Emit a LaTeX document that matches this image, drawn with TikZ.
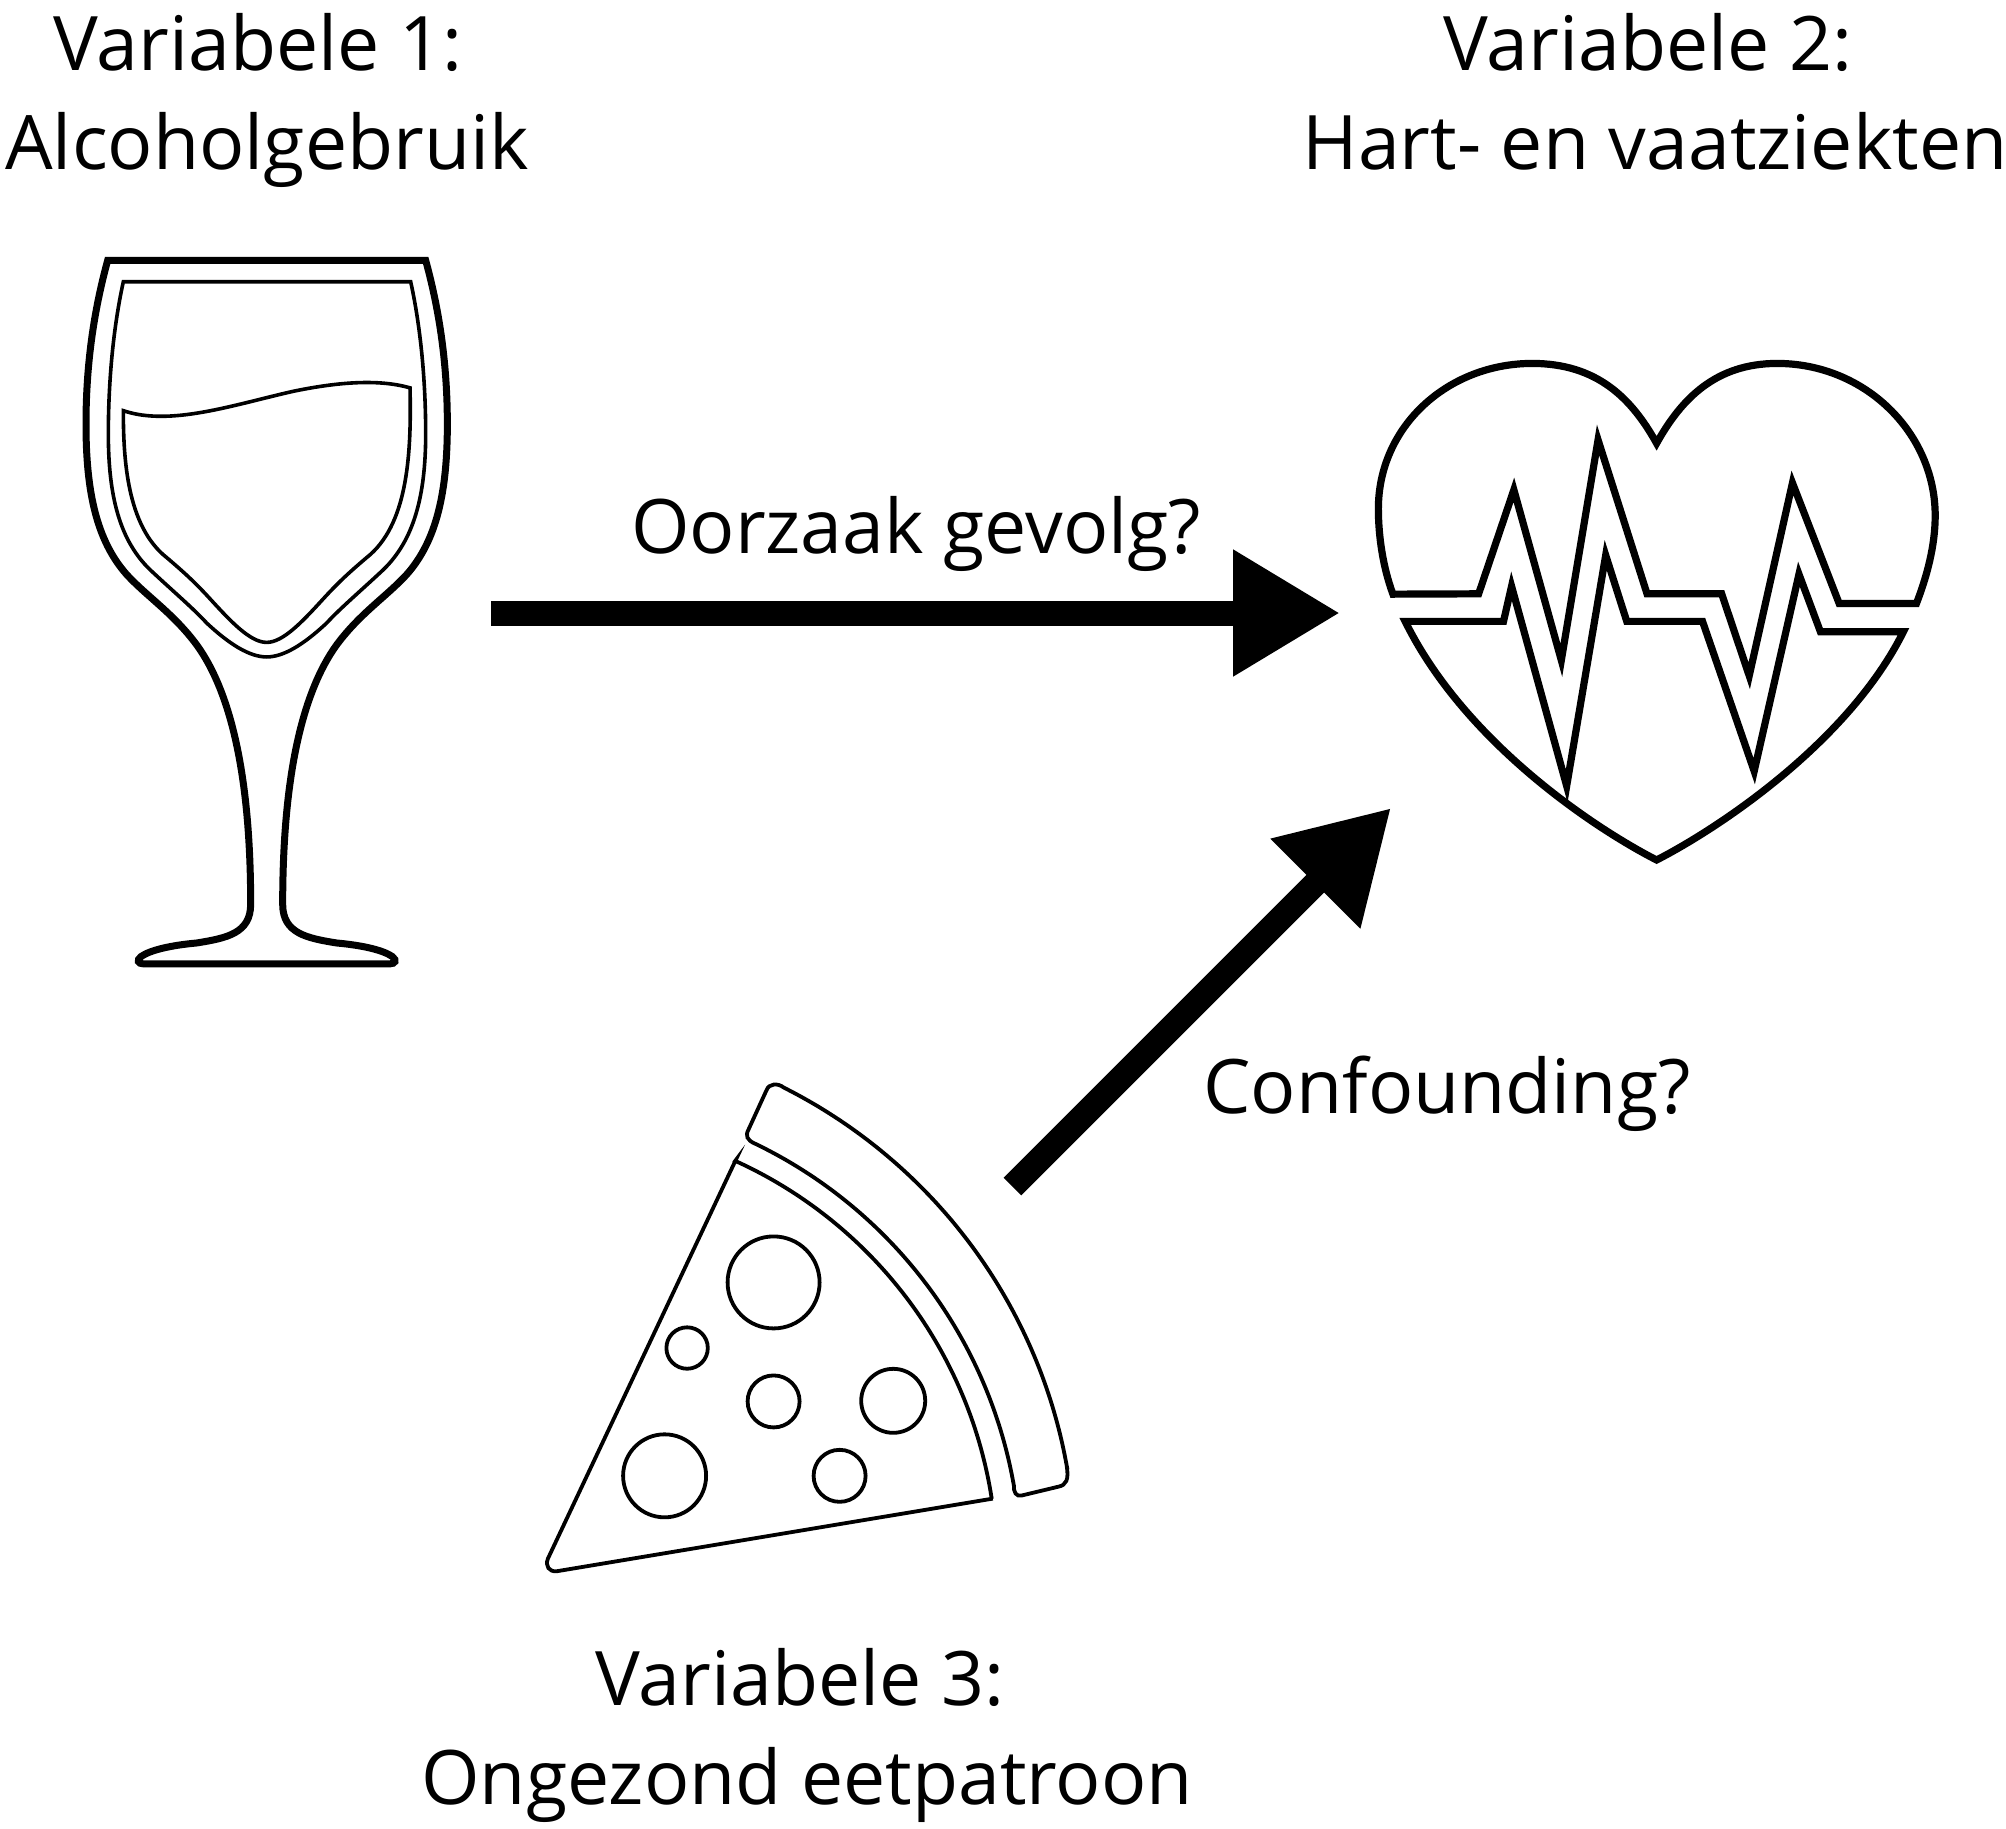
\documentclass[tikz,border=0pt]{standalone}
\usepackage{fontspec}
\setmainfont{Open Sans}
\usetikzlibrary{arrows.meta}
\tikzset{
  lbl/.style={anchor=base,inner sep=0pt,font=\fontsize{37.6pt}{37.6pt}\selectfont,text=black},
  fat/.style={line width=12.5pt,-{Triangle[length=53.5pt,width=60pt]},draw=black},
  glassthick/.style={line width=3.5pt,draw=black,line join=miter},
  glassthin/.style={line width=1.8pt,draw=black,line join=miter},
  heartline/.style={line width=3.6pt,draw=black,line join=miter,miter limit=30},
  pizzaline/.style={line width=1.9pt,draw=black,line join=miter}
}
\begin{document}
\begin{tikzpicture}[x=0.5pt,y=-0.5pt]
\useasboundingbox[fill=white] (0,0) rectangle (2006,1828);
% labels
\node[lbl] (v1a) at (258,70) {Variabele 1:};
\node[lbl] (v1b) at (267,169) {Alcoholgebruik};
\node[lbl] (v2a) at (1648,70) {Variabele 2:};
\node[lbl] (v2b) at (1655,169) {Hart- en vaatziekten};
\node[lbl] (oz) at (916,553) {Oorzaak gevolg?};
\node[lbl] (cf) at (1447,1113) {Confounding?};
\node[lbl] (v3a) at (800,1705) {Variabele 3:};
\node[lbl] (v3b) at (807,1804) {Ongezond eetpatroon};
% connectors
\coordinate (glassEnd) at (491,613);
\coordinate (heartEndA) at (1340,613);
\coordinate (pizzaEnd) at (1012.5,1186.5);
\coordinate (heartEndB) at (1391,808);
\draw[fat] (glassEnd) -- (heartEndA);
\draw[fat] (pizzaEnd) -- (heartEndB);
% glass
\begin{scope}[shift={(60,240)},x=0.16667pt,y=-0.2424pt]
\draw[glassthick] (143,42) -- (1097,42)
  .. controls (1140,150) and (1162,260) .. (1162,380)
  .. controls (1162,520) and (1130,620) .. (1040,690)
  .. controls (980,735) and (900,770) .. (830,835)
  .. controls (730,930) and (668,1100) .. (668,1370)
  .. controls (668,1430) and (740,1440) .. (830,1450)
  .. controls (910,1455) and (970,1465) .. (997,1478)
  .. controls (1012,1486) and (1005,1493) .. (990,1493) -- (250,1493)
  .. controls (235,1493) and (228,1486) .. (243,1478)
  .. controls (270,1465) and (330,1455) .. (410,1450)
  .. controls (500,1440) and (572,1430) .. (572,1370)
  .. controls (572,1100) and (510,930) .. (410,835)
  .. controls (340,770) and (260,735) .. (200,690)
  .. controls (110,620) and (78,520) .. (78,380)
  .. controls (78,260) and (100,150) .. (143,42) -- cycle;
\draw[glassthin] (190,86) -- (1052,86)
  .. controls (1082,180) and (1097,290) .. (1097,400)
  .. controls (1097,530) and (1060,620) .. (970,680)
  .. controls (900,725) and (840,760) .. (800,790)
  .. controls (730,835) and (670,860) .. (620,860)
  .. controls (570,860) and (510,835) .. (440,790)
  .. controls (400,760) and (340,725) .. (270,680)
  .. controls (180,620) and (145,530) .. (145,400)
  .. controls (145,290) and (160,180) .. (190,86) -- cycle;
\draw[glassthin] (190,352) .. controls (330,385) and (520,340) .. (700,312)
  .. controls (820,295) and (950,285) .. (1050,305)
  .. controls (1055,450) and (1040,590) .. (920,655)
  .. controls (860,690) and (830,710) .. (790,740)
  .. controls (730,785) and (670,830) .. (620,830)
  .. controls (570,830) and (510,785) .. (450,740)
  .. controls (410,710) and (380,690) .. (320,655)
  .. controls (200,590) and (190,450) .. (190,352) -- cycle;
\end{scope}
% heart
\begin{scope}[shift={(1360,340)},x=0.19135pt,y=-0.17218pt]
\draw[heartline] (86,738) .. controls (60,660) and (48,570) .. (48,490)
  .. controls (48,250) and (230,68) .. (450,68)
  .. controls (620,68) and (710,170) .. (775,300)
  .. controls (840,170) and (930,68) .. (1090,68)
  .. controls (1320,68) and (1503,270) .. (1503,510)
  .. controls (1503,600) and (1480,690) .. (1454,765)
  -- (1252,765) -- (1130,415) -- (1017,975) -- (945,737) -- (750,737) -- (622,290) -- (526,930) -- (402,435) -- (310,737) -- cycle;
\draw[heartline] (118,817) -- (375,817) -- (396,715) -- (540,1295) -- (642,625) -- (697,817) -- (895,817) -- (1030,1252) -- (1147,680) -- (1203,847) -- (1420,847)
  .. controls (1280,1160) and (950,1410) .. (775,1510)
  .. controls (600,1410) and (270,1160) .. (118,817) -- cycle;
\end{scope}
% pizza
\draw[pizzaline] (735.5,1160.5) -- (547.9,1558.6) .. controls (545,1566) and (549,1572) .. (556.8,1571.2)
  -- (992.7,1498.6)
  -- plot[domain=8.8:65.6,samples=40,smooth,variable=\t] ({551+446*cos(\t)},{1567-446*sin(\t)})
  -- cycle;
\draw[pizzaline] plot[domain=64.2:10,samples=40,smooth,variable=\t] ({551+470*cos(\t)},{1567-470*sin(\t)})
  .. controls (1013.5,1492) and (1016,1497) .. (1022,1495.4) -- (1058.6,1486.6)
  .. controls (1066,1485) and (1069,1480) .. (1066.7,1465.8)
  -- plot[domain=11.1:64.1,samples=40,smooth,variable=\t] ({551+(525.6+(\t-11.1)/53*7.4)*cos(\t)},{1567-(525.6+(\t-11.1)/53*7.4)*sin(\t)})
  .. controls (778,1083) and (769,1083) .. (766.4,1090.4) -- (748.6,1129.3)
  .. controls (745,1136) and (747,1140) .. (755.1,1143.7) -- cycle;
\draw[pizzaline] (773.6,1282.4) circle[radius=46];
\draw[pizzaline] (687.1,1348) circle[radius=20.7];
\draw[pizzaline] (773.6,1401.4) circle[radius=26];
\draw[pizzaline] (893.2,1400.8) circle[radius=32];
\draw[pizzaline] (664.6,1475.8) circle[radius=41.5];
\draw[pizzaline] (839.6,1475.8) circle[radius=26];
\end{tikzpicture}
\end{document}
